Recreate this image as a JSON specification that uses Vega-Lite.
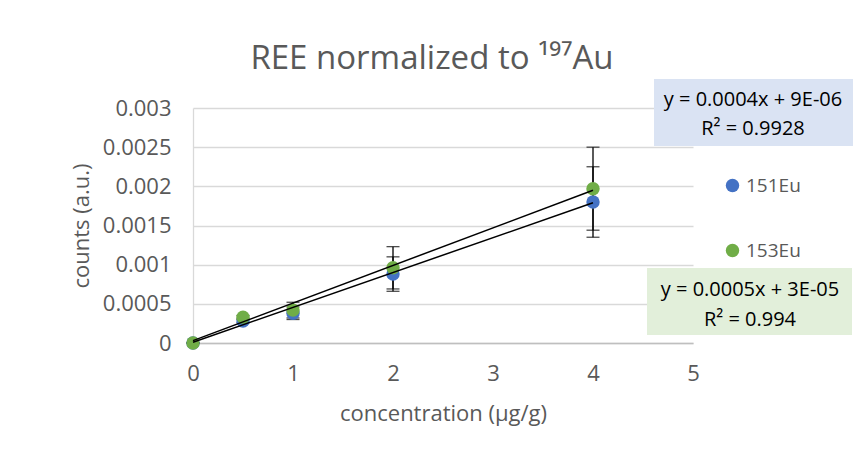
{
  "$schema": "https://vega.github.io/schema/vega-lite/v6.json",
  "width": 500,
  "height": 235,
  "autosize": "none",
  "padding": {"left": 193, "top": 108, "right": 160, "bottom": 107},
  "background": "white",
  "config": {
    "view": {"stroke": null},
    "font": "Open Sans"
  },
  "title": {
    "text": "REE normalized to ¹⁹⁷Au",
    "font": "Open Sans",
    "fontSize": 33,
    "fontWeight": "normal",
    "color": "#595959",
    "dx": -11,
    "offset": 3
  },
  "datasets": {
    "pts": [
      {"isotope": "151Eu", "conc": 0, "counts": 0, "err": 0},
      {"isotope": "151Eu", "conc": 0.5, "counts": 0.00028, "err": 0.00002},
      {"isotope": "151Eu", "conc": 1, "counts": 0.00038, "err": 0.00008},
      {"isotope": "151Eu", "conc": 2, "counts": 0.00088, "err": 0.00022},
      {"isotope": "151Eu", "conc": 4, "counts": 0.0018, "err": 0.00045},
      {"isotope": "153Eu", "conc": 0, "counts": 0, "err": 0},
      {"isotope": "153Eu", "conc": 0.5, "counts": 0.00033, "err": 0.00002},
      {"isotope": "153Eu", "conc": 1, "counts": 0.00042, "err": 0.0001},
      {"isotope": "153Eu", "conc": 2, "counts": 0.00096, "err": 0.00027},
      {"isotope": "153Eu", "conc": 4, "counts": 0.00197, "err": 0.00053}
    ],
    "trend": [
      {"isotope": "151Eu", "conc": 0, "counts": 0.000009},
      {"isotope": "151Eu", "conc": 4, "counts": 0.00179},
      {"isotope": "153Eu", "conc": 0, "counts": 0.00003},
      {"isotope": "153Eu", "conc": 4, "counts": 0.00195}
    ],
    "boxes": [
      {"box": "151Eu fit", "conc": 4.61, "conc2": 6.6, "counts": 0.002515, "counts2": 0.00337},
      {"box": "153Eu fit", "conc": 4.54, "conc2": 6.59, "counts": 0.000102, "counts2": 0.000957}
    ],
    "eqs": [
      {"label": "y = 0.0004x + 9E-06", "conc": 5.6, "counts": 0.0031},
      {"label": "R² = 0.9928", "conc": 5.6, "counts": 0.00273},
      {"label": "y = 0.0005x + 3E-05", "conc": 5.57, "counts": 0.000677},
      {"label": "R² = 0.994", "conc": 5.57, "counts": 0.000294}
    ]
  },
  "encoding": {
    "x": {
      "field": "conc", "type": "quantitative",
      "scale": {"domain": [0, 5], "nice": false},
      "axis": {"title": "concentration (µg/g)", "values": [0, 1, 2, 3, 4, 5], "format": "d", "labelFont": "Open Sans", "titleFont": "Open Sans", "labelColor": "#595959", "titleColor": "#595959", "titleFontWeight": "normal", "labelFontSize": 22, "titleFontSize": 22, "ticks": false, "titlePadding": 19, "labelPadding": 20, "labelFlush": false, "grid": false, "domainColor": "#bfbfbf", "domainWidth": 1.3}
    },
    "y": {
      "field": "counts", "type": "quantitative",
      "scale": {"domain": [0, 0.003], "nice": false},
      "axis": {"title": "counts (a.u.)", "values": [0, 0.0005, 0.001, 0.0015, 0.002, 0.0025, 0.003], "format": "~g", "labelFont": "Open Sans", "titleFont": "Open Sans", "labelColor": "#595959", "titleColor": "#595959", "titleFontWeight": "normal", "labelFontSize": 22, "titleFontSize": 22, "ticks": false, "titlePadding": 9, "labelPadding": 22, "grid": true, "gridColor": "#d9d9d9", "gridWidth": 1.3, "domainColor": "#d9d9d9", "domainWidth": 1.3}
    }
  },
  "layer": [
    {
      "data": {"name": "boxes"},
      "mark": {"type": "rect", "clip": false},
      "encoding": {
        "x2": {"field": "conc2"},
        "y2": {"field": "counts2"},
        "fill": {"field": "box", "type": "nominal", "scale": {"domain": ["151Eu fit", "153Eu fit"], "range": ["#dae3f3", "#e2efda"]}, "legend": null}
      }
    },
    {
      "data": {"name": "eqs"},
      "mark": {"type": "text", "clip": false, "fontSize": 20, "color": "#000000", "font": "Open Sans", "baseline": "middle", "align": "center"},
      "encoding": {
        "text": {"field": "label"}
      }
    },
    {
      "data": {"name": "pts"},
      "transform": [
        {"calculate": "datum.counts - datum.err", "as": "lo"},
        {"calculate": "datum.counts + datum.err", "as": "hi"}
      ],
      "layer": [
        {
          "mark": {"type": "rule", "color": "#000000", "strokeWidth": 1.3},
          "encoding": {"y": {"field": "lo", "type": "quantitative"}, "y2": {"field": "hi"}}
        },
        {
          "mark": {"type": "tick", "color": "#000000", "thickness": 1.3, "size": 13, "orient": "horizontal"},
          "encoding": {"y": {"field": "lo", "type": "quantitative"}}
        },
        {
          "mark": {"type": "tick", "color": "#000000", "thickness": 1.3, "size": 13, "orient": "horizontal"},
          "encoding": {"y": {"field": "hi", "type": "quantitative"}}
        }
      ]
    },
    {
      "data": {"name": "pts"},
      "mark": {"type": "point", "filled": true, "shape": "circle", "size": 180, "opacity": 1},
      "encoding": {
        "color": {
          "field": "isotope", "type": "nominal",
          "scale": {"domain": ["151Eu", "153Eu"], "range": ["#4472C4", "#70AD47"]},
          "legend": {"title": null, "orient": "none", "legendX": 530, "legendY": 68, "symbolType": "circle", "symbolSize": 180, "labelFontSize": 19, "labelColor": "#595959", "labelFont": "Open Sans", "rowPadding": 45, "padding": 0, "labelOffset": 4}
        }
      }
    },
    {
      "data": {"name": "trend"},
      "mark": {"type": "line", "color": "#000000", "strokeWidth": 1.5},
      "encoding": {
        "detail": {"field": "isotope"}
      }
    }
  ]
}
